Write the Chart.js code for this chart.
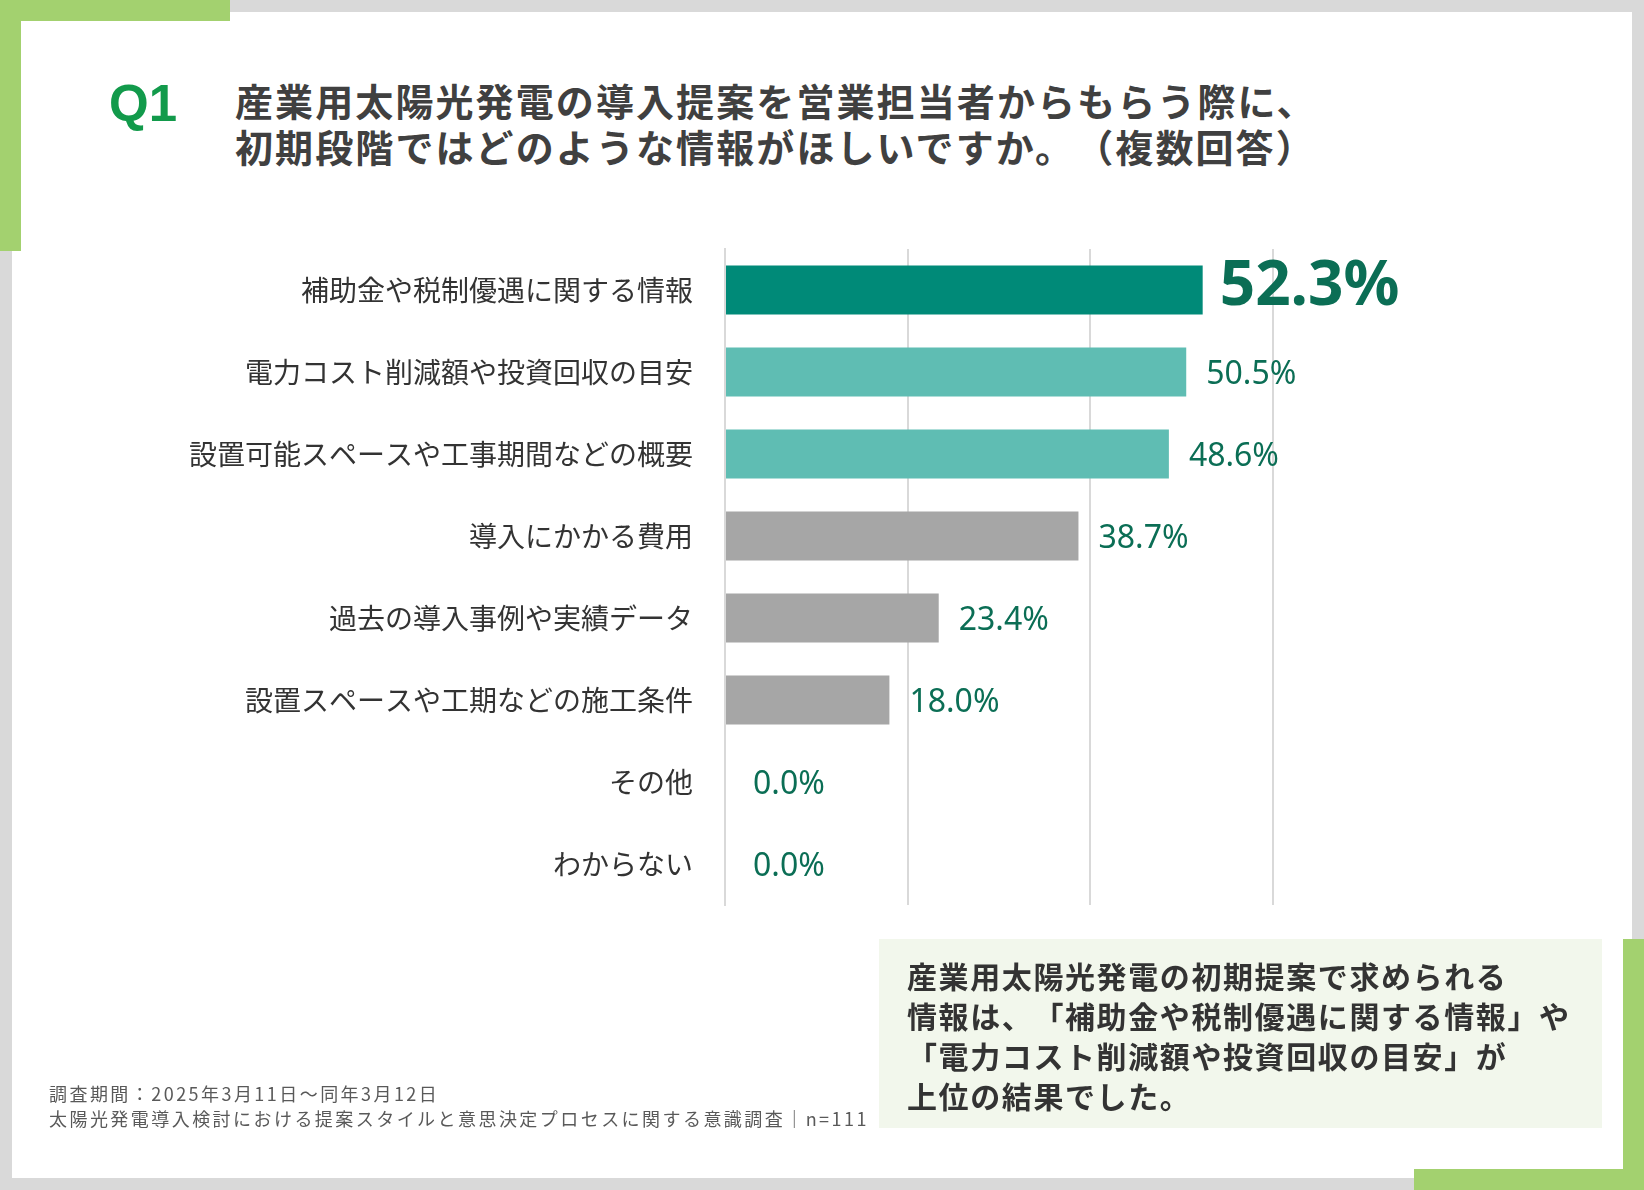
<!DOCTYPE html>
<html lang="ja">
<head>
<meta charset="UTF-8">
<title>Q1 初期段階でほしい情報</title>
<script src="https://cdn.jsdelivr.net/npm/chart.js"></script>
<style>
    body { margin: 0; width: 1644px; height: 1190px; background: #d9d9d9; position: relative; overflow: hidden; font-family: "Noto Sans CJK JP", sans-serif; text-spacing-trim: space-all; }
    .panel { position: absolute; left: 12px; top: 12px; width: 1620px; height: 1166px; background: #fff; }
    .green { position: absolute; background: #a3d16f; }
    #q { position: absolute; left: 109px; top: 74px; font: bold 51px "Liberation Sans", Arial, sans-serif; color: #129a4b; }
    #title { position: absolute; left: 235px; top: 77px; font-weight: bold; font-size: 38px; line-height: 46px; letter-spacing: 2.1px; color: #404040; }
    #chartWrap { position: absolute; left: 0; top: 0; width: 1644px; height: 1190px; }
    .summary { position: absolute; left: 879px; top: 939px; width: 723px; height: 189px; background: #f2f7ec; }
    #summaryText { position: absolute; left: 907px; top: 955px; font-weight: bold; font-size: 30px; line-height: 40px; letter-spacing: 1.6px; color: #333; }
    #note { position: absolute; left: 49px; top: 1081px; font-size: 18px; line-height: 25px; letter-spacing: 2.45px; color: #595959; }
</style>
</head>
<body>
<div class="panel"></div>
<div class="green" style="left:0;top:0;width:230px;height:21px"></div>
<div class="green" style="left:0;top:0;width:21px;height:251px"></div>
<div class="green" style="left:1623px;top:939px;width:21px;height:251px"></div>
<div class="green" style="left:1414px;top:1169px;width:230px;height:21px"></div>
<div class="summary"></div>

<div id="q">Q1</div>
<div id="title">産業用太陽光発電の導入提案を営業担当者からもらう際に、<br>初期段階ではどのような情報がほしいですか。（複数回答）</div>

<div id="chartWrap"><canvas id="chart"></canvas></div>

<div id="summaryText">産業用太陽光発電の初期提案で求められる<br>情報は、「補助金や税制優遇に関する情報」や<br>「電力コスト削減額や投資回収の目安」が<br>上位の結果でした。</div>
<div id="note">調査期間：2025年3月11日〜同年3月12日<br>太陽光発電導入検討における提案スタイルと意思決定プロセスに関する意識調査｜n=111</div>

<script>
    const categories = [
        '補助金や税制優遇に関する情報',
        '電力コスト削減額や投資回収の目安',
        '設置可能スペースや工事期間などの概要',
        '導入にかかる費用',
        '過去の導入事例や実績データ',
        '設置スペースや工期などの施工条件',
        'その他',
        'わからない'
    ];
    const values = [52.3, 50.5, 48.6, 38.7, 23.4, 18.0, 0.0, 0.0];
    const axisTicks = [0, 20, 40, 60];

    // bar colours: top answer dark teal, next two light teal, rest gray
    const barColors = ['#008a78', '#5fbdb3', '#5fbdb3', '#a6a6a6', '#a6a6a6', '#a6a6a6', '#a6a6a6', '#a6a6a6'];

    const valueLabels = {
        id: 'valueLabels',
        afterDatasetsDraw(chart) {
            const ctx = chart.ctx;
            const meta = chart.getDatasetMeta(0);
            ctx.save();
            ctx.fillStyle = '#0b6e55';
            ctx.textAlign = 'left';
            ctx.textBaseline = 'alphabetic';
            meta.data.forEach((bar, i) => {
                const text = values[i].toFixed(1) + '%';
                if (i === 0) {
                    ctx.font = 'bold 62px "Noto Sans", sans-serif';
                    ctx.fillText(text, bar.x + 17, bar.y + 15);
                } else {
                    ctx.font = '32px "Noto Sans", sans-serif';
                    const gap = values[i] === 0 ? 28 : 20;
                    ctx.fillText(text, bar.x + gap, bar.y + 12);
                }
            });
            ctx.restore();
        }
    };

    const ctx = document.getElementById('chart').getContext('2d');
    new Chart(ctx, {
        type: 'bar',
        data: {
            labels: categories,
            datasets: [{
                data: values,
                backgroundColor: barColors,
                borderWidth: 0,
                barPercentage: 0.6,
                categoryPercentage: 1.0
            }]
        },
        options: {
            indexAxis: 'y',
            responsive: true,
            maintainAspectRatio: false,
            animation: false,
            layout: { padding: { left: 0, right: 371, top: 249, bottom: 285 } },
            plugins: { legend: { display: false }, tooltip: { enabled: false } },
            scales: {
                x: {
                    min: axisTicks[0],
                    max: axisTicks[axisTicks.length - 1],
                    afterBuildTicks: (scale) => { scale.ticks = axisTicks.map(v => ({ value: v })); },
                    afterFit: (scale) => { scale.height = 0; },
                    ticks: { display: false },
                    grid: { color: '#d9d9d9', lineWidth: 2, drawTicks: false },
                    border: { display: false }
                },
                y: {
                    afterFit: (scale) => { scale.width = 725; },
                    grid: { display: false, drawTicks: false },
                    border: { color: '#d9d9d9', width: 2 },
                    ticks: {
                        color: '#333',
                        padding: 32,
                        font: { family: '"Noto Sans CJK JP", sans-serif', size: 28 }
                    }
                }
            }
        },
        plugins: [valueLabels]
    });
</script>
</body>
</html>
